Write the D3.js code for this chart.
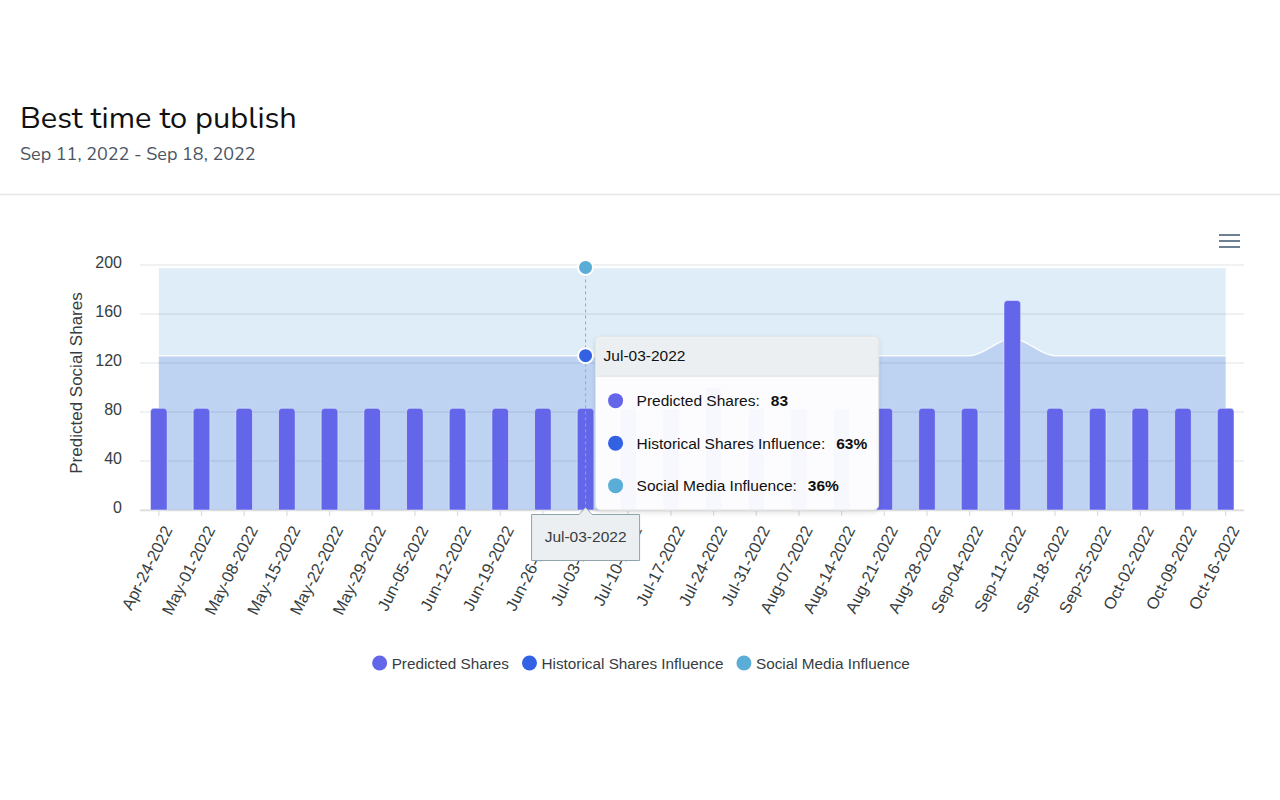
<!DOCTYPE html>
<html><head><meta charset="utf-8">
<script src="https://cdn.jsdelivr.net/npm/d3@7"></script>
<style>
body{margin:0;background:#fff;}
svg{display:block;}
</style></head><body>
<svg id="c" width="1280" height="800"></svg>
<script>
// ---------- data ----------
const categories = ["Apr-24-2022","May-01-2022","May-08-2022","May-15-2022","May-22-2022","May-29-2022",
  "Jun-05-2022","Jun-12-2022","Jun-19-2022","Jun-26-2022","Jul-03-2022","Jul-10-2022","Jul-17-2022",
  "Jul-24-2022","Jul-31-2022","Aug-07-2022","Aug-14-2022","Aug-21-2022","Aug-28-2022","Sep-04-2022",
  "Sep-11-2022","Sep-18-2022","Sep-25-2022","Oct-02-2022","Oct-09-2022","Oct-16-2022"];
const predictedShares = [83,83,83,83,83,83,83,83,83,83,83,83,83,100,83,83,83,83,83,83,171,83,83,83,83,83];
const historicalInfluence = [63,63,63,63,63,63,63,63,63,63,63,63,63,63,63,63,63,63,63,63,70,63,63,63,63,63];
const socialInfluence = [36,36,36,36,36,36,36,36,36,36,36,36,36,36,36,36,36,36,36,36,29,36,36,36,36,36];
const yTicks = [0,40,80,120,160,200];
const seriesNames = ["Predicted Shares","Historical Shares Influence","Social Media Influence"];
const seriesColors = ["#6466e9","#3361e3","#5aadd6"];
const areaFills = ["#bed3f2","#deedf7"];
const activeIndex = 10;
const titleText = "Best time to publish";
const subtitleText = "Sep 11, 2022 - Sep 18, 2022";
const yTitle = "Predicted Social Shares";

// ---------- layout ----------
const svg = d3.select("#c");
const FONT = "'Liberation Sans', Arial, Helvetica, sans-serif";
const plotL = 137.5, plotR = 1247, plotT = 265, plotB = 510;
const gridL = 140, gridR = 1244;

// header
svg.append("text").attr("x",20).attr("y",128).text(titleText)
  .attr("font-family","Nunito, Lato, sans-serif").attr("font-size",30.8).attr("fill","#111");
svg.append("text").attr("x",20).attr("y",160).text(subtitleText)
  .attr("font-family","Nunito, Lato, sans-serif").attr("font-size",18).attr("fill","#4b5563");
svg.append("line").attr("x1",0).attr("x2",1280).attr("y1",194.5).attr("y2",194.5)
  .attr("stroke","#e5e7eb").attr("stroke-width",1.5);

// hamburger
[235,241,247].forEach(yy=>svg.append("line").attr("x1",1219).attr("x2",1240).attr("y1",yy).attr("y2",yy)
  .attr("stroke","#6e8192").attr("stroke-width",2));

// scales
const x = d3.scaleBand().domain(categories).range([plotL,plotR]).padding(0);
const bw = x.bandwidth();
const cx = d => x(d) + bw/2;
const y = d3.scaleLinear().domain([0,200]).range([plotB,plotT]);
const yPct = d3.scaleLinear().domain([0,100]).range([plotB,plotT]);

// stacked areas
const rows = categories.map((c,i)=>({cat:c, hist:historicalInfluence[i], social:socialInfluence[i]}));
const stack = d3.stack().keys(["hist","social"])(rows);
const area = d3.area().x(d=>cx(d.data.cat)).y0(d=>yPct(d[0])).y1(d=>yPct(d[1])).curve(d3.curveMonotoneX);
const topLine = d3.line().x(d=>cx(d.data.cat)).y(d=>yPct(d[1])).curve(d3.curveMonotoneX);
const gA = svg.append("g");
stack.forEach((s,i)=>{
  gA.append("path").attr("d",area(s)).attr("fill",areaFills[i]);
});
stack.forEach((s,i)=>{
  gA.append("path").attr("d",topLine(s)).attr("fill","none").attr("stroke","#ffffff").attr("stroke-opacity",0.85).attr("stroke-width",1.5);
});

// grid lines
svg.append("g").selectAll("line").data(yTicks).join("line")
  .attr("x1",gridL).attr("x2",gridR).attr("y1",d=>y(d)).attr("y2",d=>y(d))
  .attr("stroke","rgba(60,70,90,0.15)").attr("stroke-width",1);

// y axis
const yAxis = svg.append("g").attr("transform","translate(122,0)")
  .call(d3.axisLeft(y).tickValues(yTicks).tickSize(0).tickPadding(0));
yAxis.select(".domain").remove();
yAxis.selectAll("text").attr("font-family",FONT).attr("font-size",16).attr("fill","#373d3f").attr("dy","0.17em");

svg.append("text").attr("transform","translate(82,383) rotate(-90)").attr("text-anchor","middle")
  .attr("font-family",FONT).attr("font-size",17).attr("fill","#373d3f").text(yTitle);

// x axis
const xAxis = svg.append("g").attr("transform",`translate(0,${plotB})`)
  .call(d3.axisBottom(x).tickSize(6).tickPadding(0));
xAxis.select(".domain").attr("d",`M${gridL},0.5H${gridR}`).attr("stroke","#dcdcdc").attr("stroke-width",1.5);
xAxis.selectAll(".tick line").attr("stroke","#dcdcdc").attr("stroke-width",1.2);
xAxis.selectAll(".tick text")
  .attr("font-family",FONT).attr("font-size",16.5).attr("fill","#373d3f")
  .attr("text-anchor","end")
  .attr("transform","translate(9,17) rotate(-63)")
  .attr("x",0).attr("y",0).attr("dy","0.35em");

// bars
const barW = bw*0.39, r = 3.5;
svg.append("g").selectAll("path").data(categories).join("path")
  .attr("d",(c,i)=>{
    const x0 = cx(c)-barW/2, x1 = cx(c)+barW/2, y0 = y(0), y1 = y(predictedShares[i]);
    return `M${x0},${y0}V${y1+r}Q${x0},${y1} ${x0+r},${y1}H${x1-r}Q${x1},${y1} ${x1},${y1+r}V${y0}Z`;
  })
  .attr("fill",seriesColors[0]).attr("stroke","rgba(255,255,255,0.45)").attr("stroke-width",1);

// crosshair + markers
const ac = categories[activeIndex];
const ax = cx(ac);
const hTop = historicalInfluence[activeIndex];
const sTop = hTop + socialInfluence[activeIndex];
svg.append("line").attr("x1",ax).attr("x2",ax).attr("y1",yPct(sTop)).attr("y2",plotB)
  .attr("stroke","#9aa5ad").attr("stroke-dasharray","3 3").attr("stroke-width",1);
svg.append("circle").attr("cx",ax).attr("cy",yPct(sTop)).attr("r",7.5).attr("fill",seriesColors[2]).attr("stroke","#fff").attr("stroke-width",2);
svg.append("circle").attr("cx",ax).attr("cy",yPct(hTop)).attr("r",7.5).attr("fill",seriesColors[1]).attr("stroke","#fff").attr("stroke-width",2);

// shadow filter
const defs = svg.append("defs");
const f = defs.append("filter").attr("id","sh").attr("x","-10%").attr("y","-10%").attr("width","120%").attr("height","130%");
f.append("feDropShadow").attr("dx",0).attr("dy",2).attr("stdDeviation",2.5).attr("flood-color","#000").attr("flood-opacity",0.12);

// tooltip
const tx = ax + 10, ty = yPct(hTop) - 19, tw = 283, th = plotB - ty;
const tg = svg.append("g").attr("transform",`translate(${tx},${ty})`);
tg.append("rect").attr("width",tw).attr("height",th).attr("rx",5)
  .attr("fill","rgba(255,255,255,0.95)").attr("stroke","#e3e3e3").attr("filter","url(#sh)");
tg.append("path").attr("d",`M0.5,39V5.5Q0.5,0.5 5.5,0.5H${tw-5.5}Q${tw-0.5},0.5 ${tw-0.5},5.5V39Z`).attr("fill","#eceff1");
tg.append("line").attr("x1",0.5).attr("x2",tw-0.5).attr("y1",39.5).attr("y2",39.5).attr("stroke","#dddddd");
tg.append("text").attr("x",8).attr("y",24.5).attr("font-family",FONT).attr("font-size",15.5).attr("fill","#111").text(ac);
const tvals = [String(predictedShares[activeIndex]), hTop+"%", socialInfluence[activeIndex]+"%"];
seriesNames.forEach((n,i)=>{
  const ry = 64 + i*42.5;
  tg.append("circle").attr("cx",20).attr("cy",ry).attr("r",7.5).attr("fill",seriesColors[i]);
  const t = tg.append("text").attr("x",41).attr("y",ry+5.5).attr("font-family",FONT).attr("font-size",15.5).attr("fill","#111");
  t.append("tspan").text(n+":");
  t.append("tspan").attr("dx",11).attr("font-weight","bold").text(tvals[i]);
});

// x-axis tooltip
const xg = svg.append("g").attr("transform",`translate(${ax},514)`);
xg.append("path").attr("d","M-54,0.5H-6.5L0,-6.5L6.5,0.5H54V46.5H-54Z").attr("fill","#eceff1").attr("stroke","#90a4ae").attr("stroke-width",1);
xg.append("text").attr("y",28).attr("text-anchor","middle").attr("font-family",FONT).attr("font-size",15.5).attr("fill","#373d3f").text(ac);

// legend
const lg = svg.append("g").attr("transform","translate(0,663)");
let items = [];
seriesNames.forEach((n,i)=>{
  const g = lg.append("g");
  g.append("circle").attr("cx",7.5).attr("cy",0).attr("r",7.5).attr("fill",seriesColors[i]);
  const t = g.append("text").attr("x",19.5).attr("y",5.5).attr("font-family",FONT).attr("font-size",15.3).attr("fill","#373d3f").text(n);
  items.push({g, w: 19.5 + t.node().getComputedTextLength()});
});
const gap = 13;
const total = d3.sum(items,d=>d.w) + gap*(items.length-1);
let cur = 641 - total/2;
items.forEach(it=>{ it.g.attr("transform",`translate(${cur},0)`); cur += it.w + gap; });
</script>
</body></html>
